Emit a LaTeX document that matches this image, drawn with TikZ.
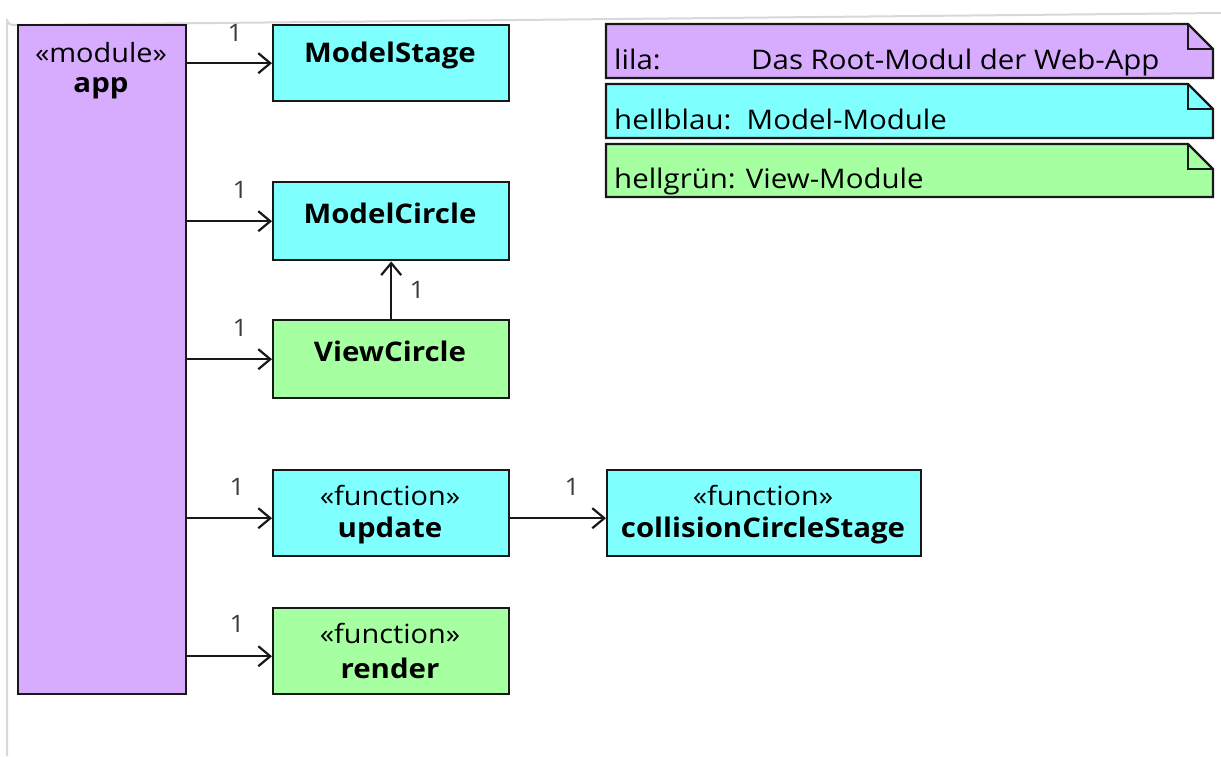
\documentclass[tikz,border=0pt]{standalone}
\usepackage{fontspec}
\setmainfont{Open Sans}[FakeStretch=1.09]
\usetikzlibrary{arrows.meta}
\definecolor{lila}{HTML}{D7ACFF}
\definecolor{hellblau}{HTML}{80FFFF}
\definecolor{hellgruen}{HTML}{A6FFA0}
\definecolor{rim}{HTML}{181818}
\definecolor{framegray}{HTML}{D8D8D8}
\tikzset{
  umlbox/.style={draw=rim, line width=2.4pt, inner sep=0pt, anchor=north west},
  stereo/.style={inner sep=0pt, font=\fontsize{26.5}{30}\selectfont},
  cname/.style={inner sep=0pt, font=\fontsize{27}{31}\selectfont\bfseries},
  mult/.style={inner sep=0pt, font=\fontsize{24}{28}\selectfont, text=rim!85},
  assoc/.style={draw=rim, line width=2.2pt, -{Straight Barb[length=12pt,width=20pt,line width=2.2pt]}},
  notetxt/.style={inner sep=0pt, anchor=base west, font=\fontsize{27}{31}\selectfont}
}
\newcommand{\notebox}[4]{% x0, y0, y1, colour
  \fill[#4] (#1,#2) -- (1188,#2) -- (1213,#2+25) -- (1213,#3) -- (#1,#3) -- cycle;
  \draw[rim, line width=2.2pt, line join=miter] (#1,#2) -- (1188,#2) -- (1213,#2+25) -- (1213,#3) -- (#1,#3) -- cycle;
  \draw[rim, line width=2.2pt] (1188,#2) -- (1188,#2+25) -- (1213,#2+25);
}
\begin{document}
\begin{tikzpicture}[x=1pt,y=-1pt]
\useasboundingbox (0,0) rectangle (1221,756);
\fill[white] (0,0) rectangle (1221,756);
% outer frame
\draw[framegray, line width=2pt] (7,756) -- (7,19) arc[start angle=180, end angle=90, radius=6] -- (1221,13);

% boxes
\node[umlbox, fill=lila, minimum width=168pt, minimum height=669pt] (app) at (17,24) {};
\node[umlbox, fill=hellblau, minimum width=236pt, minimum height=76pt] (ms) at (272,24) {};
\node[umlbox, fill=hellblau, minimum width=236pt, minimum height=78pt] (mc) at (272,181) {};
\node[umlbox, fill=hellgruen, minimum width=236pt, minimum height=78pt] (vc) at (272,319) {};
\node[umlbox, fill=hellblau, minimum width=236pt, minimum height=86pt] (up) at (272,469) {};
\node[umlbox, fill=hellblau, minimum width=314pt, minimum height=86pt] (cs) at (606,469) {};
\node[umlbox, fill=hellgruen, minimum width=236pt, minimum height=86pt] (re) at (272,607) {};

% box texts
\node[stereo] (app-s) at (101,53) {«module»};
\node[cname] (app-n) at (101,88) {app};
\node[cname] (ms-n) at (390,55) {ModelStage};
\node[cname] (mc-n) at (390,213) {ModelCircle};
\node[cname] (vc-n) at (390,351) {ViewCircle};
\node[stereo] (up-s) at (390,495) {«function»};
\node[cname] (up-n) at (390,530) {update};
\node[stereo] (cs-s) at (763,495) {«function»};
\node[cname] (cs-n) at (763,530) {collisionCircleStage};
\node[stereo] (re-s) at (390,633) {«function»};
\node[cname] (re-n) at (390,668) {render};

% associations
\draw[assoc] (app.east |- ms.west) -- (ms.west);
\draw[assoc] (app.east |- mc.west) -- (mc.west);
\draw[assoc] (app.east |- vc.west) -- (vc.west);
\draw[assoc] ([yshift=-5pt]app.east |- up.west) -- ([yshift=-5pt]up.west);
\draw[assoc] ([yshift=-5pt]app.east |- re.west) -- ([yshift=-5pt]re.west);
\draw[assoc] ([yshift=-5pt]up.east) -- ([yshift=-5pt]cs.west);
\draw[assoc] (vc.north) -- (mc.south);

% multiplicities
\node[mult] (m1) at (235,33) {1};
\node[mult] (m2) at (240,190) {1};
\node[mult] (m3) at (240,328) {1};
\node[mult] (m4) at (237,487) {1};
\node[mult] (m5) at (237,624) {1};
\node[mult] (m6) at (572,487) {1};
\node[mult] (m7) at (417,290) {1};

% legend notes
\notebox{606}{24}{78}{lila}
\notebox{606}{84}{138}{hellblau}
\notebox{606}{144}{197}{hellgruen}
\node[notetxt] (n1a) at (614,69) {lila:};
\node[notetxt] (n1b) at (751,69) {Das Root-Modul der Web-App};
\node[notetxt] (n2) at (614,129) {hellblau:\ \ Model-Module};
\node[notetxt] (n3) at (614,188) {hellgrün: View-Module};
\end{tikzpicture}
\end{document}
